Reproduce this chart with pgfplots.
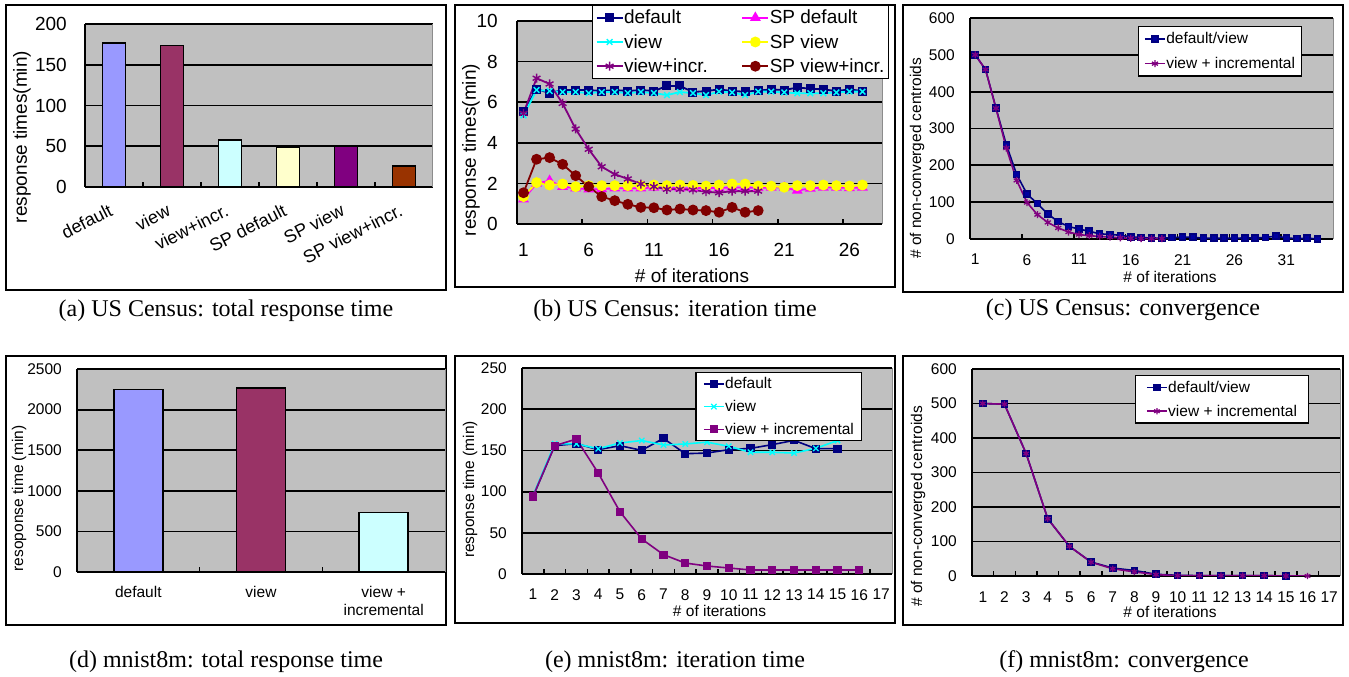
\documentclass[border=0pt]{standalone}
\usepackage{fontspec}
\setmainfont{Liberation Sans}
\newfontfamily\capserif{Liberation Serif}
\usepackage{pgfplots}
\pgfplotsset{compat=1.18}

\definecolor{plotgray}{HTML}{C0C0C0}
\definecolor{xlnavy}{HTML}{000080}
\definecolor{xlcyan}{HTML}{00FFFF}
\definecolor{xlpurple}{HTML}{800080}
\definecolor{xlmagenta}{HTML}{FF00FF}
\definecolor{xlyellow}{HTML}{FFFF00}
\definecolor{xlmaroon}{HTML}{800000}
\definecolor{barblue}{HTML}{9999FF}
\definecolor{barplum}{HTML}{993366}
\definecolor{barice}{HTML}{CCFFFF}
\definecolor{barcream}{HTML}{FFFFCC}
\definecolor{barrust}{HTML}{993300}

\newcommand\fbig{\fontsize{19}{22}\selectfont}
\newcommand\fcat{\fontsize{18}{21}\selectfont}
\newcommand\fsml{\fontsize{15.5}{18}\selectfont}
\newcommand\fcap{\capserif\fontsize{24}{28}\selectfont}

\pgfplotsset{
  xl/.style={
    scale only axis, anchor=north west,
    axis background/.style={fill=plotgray},
    axis x line*=bottom, axis y line*=left,
    axis line style={-, black, line width=2pt},
    ymin=0,
    ymajorgrids, major grid style={black, line width=1.8pt},
    ytick style={draw=none},
    major x tick style={draw=none},
    minor x tick style={black, line width=1.6pt},
    minor tick length=5pt,
    tick align=inside,
    scaled y ticks=false,
    /pgf/number format/assume math mode=true,
    /pgf/number format/1000 sep={},
    yticklabel style={anchor=east, inner sep=0pt},
    xticklabel style={anchor=north, inner sep=0pt},
    after end axis/.code={\draw[black!45, line width=1pt] (rel axis cs:1,0) -- (rel axis cs:1,1);},
  },
  xlleg/.style={
    legend cell align=left,
    legend style={draw=black, line width=1.2pt, fill=white, inner ysep=0pt,
      row sep=0pt, nodes={inner xsep=0.5pt}},
    legend image code/.code={\draw[mark repeat=2, mark phase=2, ##1]
      plot coordinates {(0pt,0pt) (0.5*#1,0pt) (#1,0pt)};},
  },
  bar/.style={ybar, bar shift=0pt, draw=black, line width=1.5pt},
}

\begin{document}
\begin{tikzpicture}
\useasboundingbox (0,0) rectangle (1349pt,-677pt);

% frames round the six charts
\draw[line width=2pt] (6pt,-5pt) rectangle (446pt,-290pt);
\draw[line width=2pt] (455pt,-5pt) rectangle (895pt,-287pt);
\draw[line width=2pt] (903pt,-5pt) rectangle (1343pt,-292pt);
\draw[line width=2pt] (6pt,-356pt) rectangle (446pt,-625pt);
\draw[line width=2pt] (455pt,-356pt) rectangle (895pt,-623pt);
\draw[line width=2pt] (903pt,-356pt) rectangle (1343pt,-625pt);

% ---------- (a) US Census total ----------
\begin{axis}[xl, at={(85pt,-24pt)}, width=348pt, height=163pt,
  xmin=-0.5, xmax=5.5, ymax=200, ytick={0,50,...,200},
  xtick={0,...,5},
  xticklabels={default, view, view+incr., SP default, SP view, SP view+incr.},
  minor xtick={0.5,1.5,...,4.5},
  yticklabel style={font=\fbig}, yticklabel shift=18pt,
  xticklabel style={font=\fcat, xshift=-3pt, rotate=27, anchor=east}, xticklabel shift=22pt,
]
\addplot[bar, bar width=23pt, fill=barblue] coordinates {(0,176.5)};
\addplot[bar, bar width=23pt, fill=barplum] coordinates {(1,173.7)};
\addplot[bar, bar width=23pt, fill=barice] coordinates {(2,57.9)};
\addplot[bar, bar width=23pt, fill=barcream] coordinates {(3,48.8)};
\addplot[bar, bar width=23pt, fill=xlpurple] coordinates {(4,49.6)};
\addplot[bar, bar width=23pt, fill=barrust] coordinates {(5,25.9)};
\end{axis}
\node[rotate=90, font=\fbig] at (22pt,-137pt) {response times(min)};
\node[font=\fcap] at (226pt,-311pt) {(a) US Census: total response time};

% ---------- (b) US Census iteration time ----------
\begin{axis}[xl, xlleg=26pt, at={(517pt,-21pt)}, width=365pt, height=203pt,
  xmin=0.5, xmax=28.5, ymax=10, ytick={0,2,...,10},
  xtick={1,6,...,26}, minor xtick={5.5,10.5,...,25.5},
  tick label style={font=\fbig}, xticklabel shift=19pt, yticklabel shift=19pt,
  legend columns=2,
  legend style={font=\fbig, at={(1.019,1.079)}, anchor=north east, inner xsep=3.5pt,
    nodes={inner ysep=4.5pt},
    /tikz/every even column/.append style={column sep=33pt}},
]
\addplot[xlnavy, line width=1.8pt, mark=square*, mark size=3.6pt, mark options={fill=xlnavy}]
  coordinates {(1,5.55) (2,6.65) (3,6.45) (4,6.6) (5,6.6) (6,6.6) (7,6.55) (8,6.6) (9,6.55)
  (10,6.6) (11,6.55) (12,6.8) (13,6.8) (14,6.5) (15,6.55) (16,6.63) (17,6.55) (18,6.52)
  (19,6.57) (20,6.63) (21,6.6) (22,6.72) (23,6.67) (24,6.63) (25,6.55) (26,6.63) (27,6.55)};
\addlegendentry{default}
\addplot[xlmagenta, line width=1.8pt, mark=triangle*, mark size=4.5pt]
  coordinates {(1,1.22) (2,2.0) (3,2.13) (4,1.84) (5,1.76) (6,1.71) (7,1.72) (8,1.76) (9,1.76)
  (10,1.76) (11,1.8) (12,1.8) (13,1.76) (14,1.76) (15,1.78) (16,1.78) (17,1.8) (18,1.8)
  (19,1.78) (20,1.8) (21,1.8) (22,1.65) (23,1.75) (24,1.8) (25,1.8) (26,1.78) (27,1.8)};
\addlegendentry{SP default}
\addplot[xlcyan, line width=1.8pt, mark=x, mark size=4pt, mark options={line width=1.4pt}]
  coordinates {(1,5.35) (2,6.6) (3,6.55) (4,6.5) (5,6.5) (6,6.45) (7,6.5) (8,6.5) (9,6.45)
  (10,6.5) (11,6.45) (12,6.35) (13,6.5) (14,6.45) (15,6.35) (16,6.52) (17,6.48) (18,6.35)
  (19,6.52) (20,6.52) (21,6.48) (22,6.44) (23,6.44) (24,6.44) (25,6.48) (26,6.52) (27,6.52)};
\addlegendentry{view}
\addplot[xlyellow, line width=1.8pt, mark=*, mark size=4.5pt]
  coordinates {(1,1.35) (2,2.04) (3,1.92) (4,1.97) (5,1.84) (6,1.89) (7,1.89) (8,1.89) (9,1.89)
  (10,1.89) (11,1.92) (12,1.89) (13,1.92) (14,1.9) (15,1.87) (16,1.92) (17,1.97) (18,1.97)
  (19,1.87) (20,1.87) (21,1.81) (22,1.89) (23,1.89) (24,1.92) (25,1.89) (26,1.87) (27,1.92)};
\addlegendentry{SP view}
\addplot[xlpurple, line width=1.8pt, mark=asterisk, mark size=4.5pt, mark options={line width=1.4pt}]
  coordinates {(1,5.45) (2,7.18) (3,6.9) (4,5.94) (5,4.68) (6,3.68) (7,2.82) (8,2.45) (9,2.22)
  (10,1.97) (11,1.84) (12,1.71) (13,1.71) (14,1.68) (15,1.59) (16,1.54) (17,1.62) (18,1.62)
  (19,1.62)};
\addlegendentry{view+incr.}
\addplot[xlmaroon, line width=1.8pt, mark=*, mark size=4.5pt]
  coordinates {(1,1.54) (2,3.19) (3,3.27) (4,2.94) (5,2.38) (6,1.84) (7,1.35) (8,1.15) (9,0.97)
  (10,0.82) (11,0.8) (12,0.69) (13,0.74) (14,0.69) (15,0.66) (16,0.58) (17,0.82) (18,0.58)
  (19,0.66)};
\addlegendentry{SP view+incr.}
\end{axis}
\node[rotate=90, font=\fbig] at (471pt,-150pt) {response times(min)};
\node[font=\fbig] at (692pt,-276pt) {\# of iterations};
\node[font=\fcap] at (675pt,-311pt) {(b) US Census: iteration time};

% ---------- (c) US Census convergence ----------
\begin{axis}[xl, xlleg=20pt, at={(970pt,-18pt)}, width=363pt, height=221pt,
  xmin=0.5, xmax=35.5, ymax=600, ytick={0,100,...,600},
  xtick={1,6,...,31}, minor xtick={5.5,10.5,...,30.5},
  tick label style={font=\fsml}, xticklabel shift=15pt, yticklabel shift=15pt,
  legend style={font=\fsml, at={(0.915,0.964)}, anchor=north east, inner xsep=6pt,
    nodes={inner ysep=6pt}},
]
\addplot[xlnavy, line width=1.6pt, mark=square*, mark size=3pt, mark options={fill=xlnavy!75!blue}]
  coordinates {(1,500) (2,460) (3,356) (4,256) (5,175) (6,122) (7,96) (8,68) (9,47) (10,34)
  (11,27) (12,21) (13,14) (14,12.5) (15,10) (16,6) (17,3.6) (18,3) (19,2) (20,4) (21,5)
  (22,5) (23,2) (24,2) (25,2) (26,2) (27,3) (28,3) (29,4) (30,8) (31,3) (32,1) (33,2) (34,0.5)};
\addlegendentry{default/view}
\addplot[xlpurple, line width=1.6pt, mark=asterisk, mark size=3.5pt, mark options={line width=1.3pt}]
  coordinates {(1,500) (2,460) (3,355) (4,247) (5,159) (6,99) (7,66) (8,45) (9,30) (10,19)
  (11,12) (12,9) (13,7) (14,5) (15,3) (16,2) (17,1) (18,1) (19,1)};
\addlegendentry{view + incremental}
\end{axis}
\node[rotate=90, font=\fsml] at (917pt,-158.5pt) {\# of non-converged centroids};
\node[font=\fsml] at (1170pt,-277pt) {\# of iterations};
\node[font=\fcap] at (1123pt,-310pt) {(c) US Census: convergence};

% ---------- (d) mnist8m total ----------
\begin{axis}[xl, at={(77pt,-369pt)}, width=368pt, height=203pt,
  xmin=-0.5, xmax=2.5, ymax=2500, ytick={0,500,...,2500},
  xtick={0,1,2}, xticklabels={default, view, {view +\\incremental}},
  minor xtick={0.5,1.5},
  tick label style={font=\fsml}, yticklabel shift=15pt, xticklabel shift=14pt,
  xticklabel style={align=center},
]
\addplot[bar, bar width=49pt, fill=barblue] coordinates {(0,2247)};
\addplot[bar, bar width=49pt, fill=barplum] coordinates {(1,2263)};
\addplot[bar, bar width=49pt, fill=barice] coordinates {(2,730)};
\end{axis}
\node[rotate=90, font=\fsml] at (19pt,-498.5pt) {resoponse time (min)};
\node[font=\fcap] at (226pt,-662pt) {(d) mnist8m: total response time};

% ---------- (e) mnist8m iteration time ----------
\begin{axis}[xl, xlleg=20pt, at={(522pt,-368pt)}, width=370pt, height=206pt,
  xmin=0.5, xmax=17.5, ymax=250, ytick={0,50,...,250},
  xtick={1,...,17}, minor xtick={1.5,2.5,...,16.5},
  tick label style={font=\fsml}, xticklabel shift=15pt, yticklabel shift=15pt,
  legend style={font=\fsml, at={(0.919,0.981)}, anchor=north east, inner xsep=7pt,
    nodes={inner ysep=5pt}},
]
\addplot[xlnavy, line width=1.6pt, mark=square*, mark size=3.3pt, mark options={fill=xlnavy}]
  coordinates {(1,93.4) (2,155.7) (3,158.2) (4,150.9) (5,155.7) (6,150.1) (7,164.6) (8,146)
  (9,146.8) (10,150.9) (11,152.5) (12,157) (13,162.2) (14,152.1) (15,152.1)};
\addlegendentry{default}
\addplot[xlcyan, line width=1.6pt, mark=x, mark size=3.8pt, mark options={line width=1.3pt}]
  coordinates {(1,95) (2,158) (3,158) (4,152) (5,159) (6,162) (7,156.6) (8,157.8) (9,160)
  (10,155) (11,147.7) (12,147.7) (13,146.8) (14,152.5) (15,162)};
\addlegendentry{view}
\addplot[xlpurple, line width=1.6pt, mark=square*, mark size=3.3pt, mark options={fill=xlpurple}]
  coordinates {(1,94) (2,155.7) (3,163.8) (4,122.6) (5,75.6) (6,42.5) (7,23.5) (8,13.3)
  (9,9.7) (10,7.3) (11,4.9) (12,4.9) (13,4.9) (14,4.9) (15,4.9) (16,4.9)};
\addlegendentry{view + incremental}
\end{axis}
\node[rotate=90, font=\fsml] at (470pt,-489.5pt) {response time (min)};
\node[font=\fsml] at (719.5pt,-611pt) {\# of iterations};
\node[font=\fcap] at (675pt,-662pt) {(e) mnist8m: iteration time};

% ---------- (f) mnist8m convergence ----------
\begin{axis}[xl, xlleg=20pt, at={(972pt,-369pt)}, width=368pt, height=207pt,
  xmin=0.5, xmax=17.5, ymax=600, ytick={0,100,...,600},
  xtick={1,...,17}, minor xtick={1.5,2.5,...,16.5},
  tick label style={font=\fsml}, xticklabel shift=15.5pt, yticklabel shift=15pt,
  legend style={font=\fsml, at={(0.916,0.971)}, anchor=north east, inner xsep=11pt,
    nodes={inner ysep=5.5pt}},
]
\addplot[xlnavy, line width=1.6pt, mark=square*, mark size=3pt, mark options={fill=xlnavy}]
  coordinates {(1,500) (2,498) (3,355) (4,166) (5,86) (6,40.6) (7,23) (8,16) (9,5) (10,2)
  (11,1) (12,1) (13,1) (14,1) (15,0)};
\addlegendentry{default/view}
\addplot[xlpurple, line width=1.6pt, mark=asterisk, mark size=3.2pt, mark options={line width=1.3pt}]
  coordinates {(1,500) (2,498) (3,355) (4,166) (5,86) (6,40) (7,21) (8,12) (9,4) (10,1)
  (11,1) (12,1) (13,1) (14,1) (15,0) (16,0)};
\addlegendentry{view + incremental}
\end{axis}
\node[rotate=90, font=\fsml] at (918pt,-506.5pt) {\# of non-converged centroids};
\node[font=\fsml] at (1170pt,-612pt) {\# of iterations};
\node[font=\fcap] at (1124pt,-662pt) {(f) mnist8m: convergence};
\end{tikzpicture}
\end{document}
